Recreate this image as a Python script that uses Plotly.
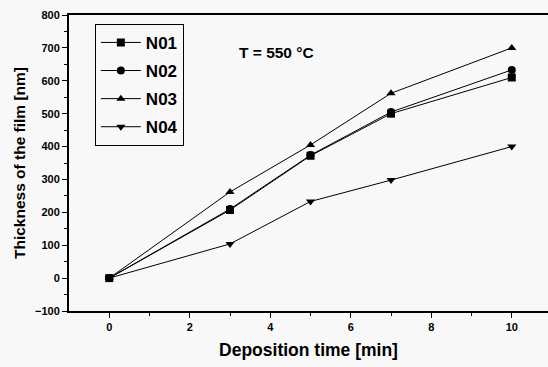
import plotly.graph_objects as go

time_min = [0, 3, 5, 7, 10]
n01 = [0, 207, 372, 500, 610]
n02 = [0, 210, 374, 505, 633]
n03 = [0, 262, 405, 562, 700]
n04 = [0, 104, 233, 298, 400]

series = [("N01", n01, "square"), ("N02", n02, "circle"),
          ("N03", n03, "triangle-up"), ("N04", n04, "triangle-down")]

fig = go.Figure()
for name, vals, sym in series:
    fig.add_trace(go.Scatter(
        x=time_min, y=vals, name=name, mode="lines+markers",
        legendgroup=name,
        line=dict(color="black", width=1),
        marker=dict(symbol=sym, size=8, color="black"),
    ))

font_family = "Liberation Sans, Arial, sans-serif"
bg = "#f8f8f8"
fig.update_layout(
    width=548, height=367,
    margin=dict(l=69, r=0, t=15, b=56),
    paper_bgcolor=bg, plot_bgcolor=bg,
    font=dict(family=font_family, color="black"),
    showlegend=True,
    legend=dict(
        x=0.054, y=0.97, xanchor="left", yanchor="top",
        bordercolor="black", borderwidth=1, bgcolor=bg,
        font=dict(size=17, family=font_family, color="black", weight="bold"),
        tracegroupgap=3,
        itemwidth=40,
    ),
    annotations=[dict(
        x=0.35, y=0.875, xref="paper", yref="paper",
        text="<b>T = 550 °C</b>", showarrow=False,
        font=dict(size=15.5, family=font_family, color="black"),
        xanchor="left", yanchor="middle",
    )],
)
fig.update_xaxes(
    range=[-1, 10.9], tickvals=[0, 2, 4, 6, 8, 10],
    ticks="outside", ticklen=5, tickwidth=1, tickcolor="black",
    minor=dict(tickvals=[1, 3, 5, 7, 9], ticks="outside", ticklen=3, tickcolor="black"),
    showline=True, linecolor="black", linewidth=2, mirror=True,
    showgrid=False, zeroline=False,
    tickfont=dict(size=11, family=font_family, weight="bold"),
    title=dict(text="<b>Deposition time [min]</b>", font=dict(size=17.5), standoff=12),
)
fig.update_yaxes(
    range=[-100, 800], tickvals=list(range(-100, 801, 100)),
    ticks="outside", ticklen=5, tickwidth=1, tickcolor="black",
    minor=dict(tickvals=list(range(-50, 800, 100)), ticks="outside", ticklen=3, tickcolor="black"),
    showline=True, linecolor="black", linewidth=2,
    showgrid=False, zeroline=False,
    tickfont=dict(size=11, family=font_family, weight="bold"),
    title=dict(text="<b>Thickness of the film [nm]</b>", font=dict(size=15.5), standoff=6),
)

fig.write_html("out.html")
